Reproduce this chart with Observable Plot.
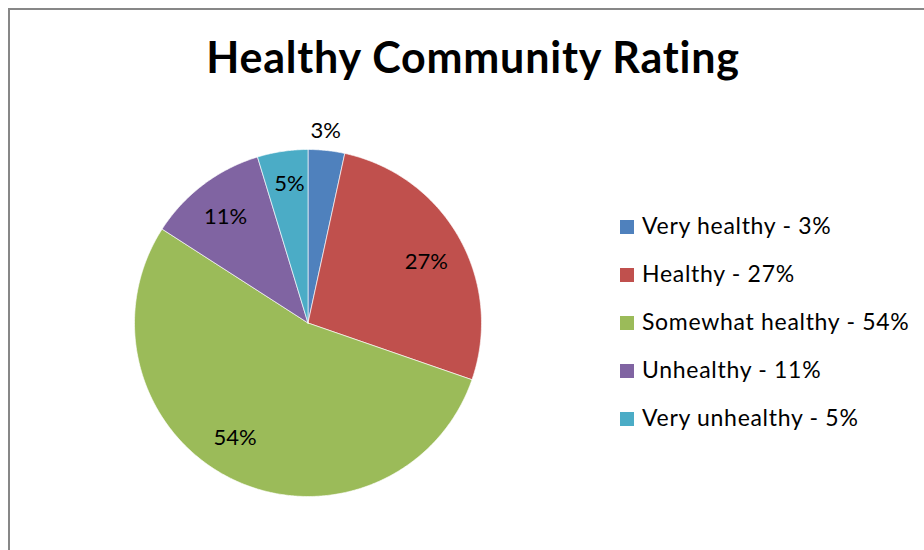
<!DOCTYPE html>
<html><head><meta charset="utf-8">
<script src="https://cdn.jsdelivr.net/npm/d3@7"></script>
<script src="https://cdn.jsdelivr.net/npm/@observablehq/plot@0.6"></script>
<style>
body{margin:0;background:#fff;font-family:Lato,"Open Sans",sans-serif;}
#wrap{position:relative;width:924px;height:550px;overflow:hidden;background:#fff;}
#frame{position:absolute;left:8px;top:8px;width:1000px;height:1000px;border:2px solid #878787;box-sizing:border-box;pointer-events:none;}
#title{position:absolute;left:0;width:946px;top:35px;text-align:center;font-weight:700;font-size:43px;line-height:43px;letter-spacing:0.8px;color:#000;white-space:nowrap;}
#chart{position:absolute;left:0;top:0;}
#legend{position:absolute;left:620px;top:0;}
.item{position:absolute;left:0;white-space:nowrap;font-size:23px;line-height:23px;letter-spacing:0.7px;color:#000;}
.sw{position:absolute;left:0;width:14px;height:14px;}
.lt{position:absolute;left:22px;}
</style>
</head><body>
<div id="wrap">
  <div id="chart"></div>
  <div id="title">Healthy Community Rating</div>
  <div id="legend"></div>
  <div id="frame"></div>
</div>
<script>
const categories = ["Very healthy", "Healthy", "Somewhat healthy", "Unhealthy", "Very unhealthy"];
const values = [3.4, 26.9, 53.8, 11.2, 4.7];
const valueLabels = ["3%", "27%", "54%", "11%", "5%"];
const legendLabels = ["Very healthy - 3%", "Healthy - 27%", "Somewhat healthy - 54%", "Unhealthy - 11%", "Very unhealthy - 5%"];
const colors = ["#4F81BD", "#C0504D", "#9BBB59", "#8064A2", "#4BACC6"];
// label placement (layout): radius as fraction of pie radius, angle offset in degrees from slice middle
const labelRadius = [1.114, 0.767, 0.787, 0.776, 0.811];
const labelAngleOffset = [-0.9, 2.2, 6.4, -0.7, 0.9];

const total = d3.sum(values);
let acc = 0;
const slices = values.map((v, i) => {
  const a0 = acc / total * 2 * Math.PI;
  acc += v;
  const a1 = acc / total * 2 * Math.PI;
  return {category: categories[i], a0, a1, mid: (a0 + a1) / 2 + labelAngleOffset[i] * Math.PI / 180, label: valueLabels[i], lr: labelRadius[i]};
});
const pts = [];
for (const s of slices) {
  pts.push({category: s.category, x: 0, y: 0});
  const n = Math.max(2, Math.ceil((s.a1 - s.a0) / (Math.PI / 360)));
  for (let k = 0; k <= n; k++) {
    const a = s.a0 + (s.a1 - s.a0) * k / n;
    pts.push({category: s.category, x: Math.sin(a), y: Math.cos(a)});
  }
  pts.push({category: s.category, x: 0, y: 0});
}
const labels = slices.map(s => ({label: s.label, x: s.lr * Math.sin(s.mid), y: s.lr * Math.cos(s.mid)}));

const plot = Plot.plot({
  width: 924, height: 550,
  marginLeft: 134, marginRight: 443, marginTop: 149, marginBottom: 54,
  x: {domain: [-1, 1], axis: null},
  y: {domain: [-1, 1], axis: null},
  color: {domain: categories, range: colors},
  style: {background: "transparent", fontFamily: "Lato, sans-serif"},
  marks: [
    Plot.line(pts, {x: "x", y: "y", z: "category", fill: "category", stroke: "#ffffff", strokeWidth: 0.8, strokeOpacity: 0.8, curve: "linear"}),
    Plot.text(labels, {x: "x", y: "y", text: "label", fontSize: 22, fill: "#000"})
  ]
});
document.getElementById("chart").appendChild(plot);

const legend = document.getElementById("legend");
legendLabels.forEach((t, i) => {
  const top = 220 + i * 48;
  const item = document.createElement("div");
  item.className = "item";
  item.style.top = top + "px";
  item.innerHTML = `<div class="sw" style="background:${colors[i]};top:0"></div><div class="lt" style="top:-6px">${t}</div>`;
  legend.appendChild(item);
});
</script>
</body></html>
